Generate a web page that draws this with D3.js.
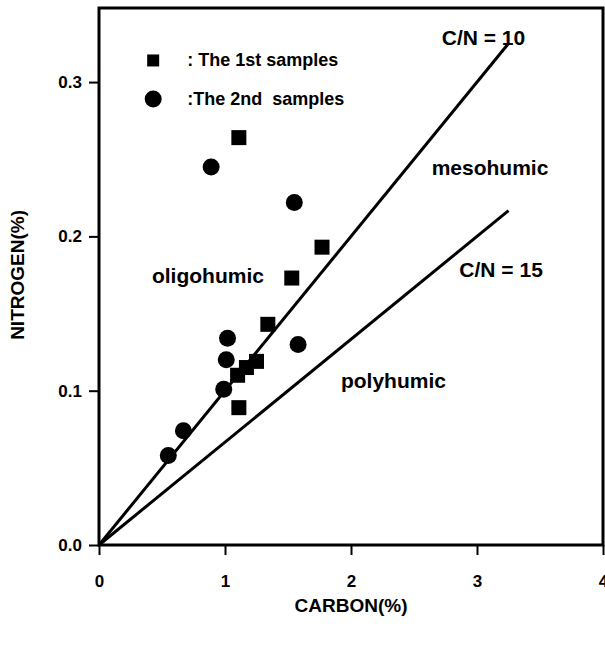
<!DOCTYPE html>
<html>
<head>
<meta charset="utf-8">
<script src="https://cdn.jsdelivr.net/npm/d3@7"></script>
<style>
  body { margin: 0; background: #fff; }
  text { font-family: "Liberation Sans", Arial, sans-serif; font-weight: bold; fill: #000; }
</style>
</head>
<body>
<script>
// 1st samples (squares): carbon %, nitrogen %
var firstCarbon   = [1.11, 1.77, 1.53, 1.34, 1.25, 1.17, 1.10, 1.11];
var firstNitrogen = [0.264, 0.193, 0.173, 0.143, 0.119, 0.115, 0.110, 0.089];

// 2nd samples (circles)
var secondCarbon   = [0.89, 1.55, 1.02, 1.01, 1.58, 0.99, 0.67, 0.55];
var secondNitrogen = [0.245, 0.222, 0.134, 0.120, 0.130, 0.101, 0.074, 0.058];

// C/N reference lines
var ratios = [10, 15];
var lineEndCarbon = 3.25;

var xTicks = [0, 1, 2, 3, 4];
var yTicks = [0, 0.1, 0.2, 0.3];

var margin = {top: 8, right: 2, bottom: 100, left: 99};
var width = 605 - margin.left - margin.right;
var height = 645 - margin.top - margin.bottom;

var xScale = d3.scaleLinear().domain([0, 4]).range([0, width]);
var yScale = d3.scaleLinear().domain([0, 0.348]).range([height, 0]);

var svg = d3.select("body")
  .append("svg")
  .attr("width", 605)
  .attr("height", 645)
  .append("g")
  .attr("transform", "translate(" + margin.left + "," + margin.top + ")");

// frame
svg.append("rect")
  .attr("width", width)
  .attr("height", height)
  .attr("fill", "none")
  .attr("stroke", "#000")
  .attr("stroke-width", 3);

var xAxis = d3.axisBottom(xScale).tickValues(xTicks).tickSize(10).tickPadding(20)
  .tickFormat(d3.format("d"));
var yAxis = d3.axisLeft(yScale).tickValues(yTicks).tickSize(10).tickPadding(7)
  .tickFormat(d3.format(".1f"));

function styleAxis(g) {
  g.select(".domain").remove();
  g.selectAll("line").attr("stroke", "#000").attr("stroke-width", 2);
  g.selectAll("text").attr("font-size", 17).style("font-family", "'Liberation Sans', Arial, sans-serif")
    .style("font-weight", "bold");
}

svg.append("g")
  .attr("class", "x axis")
  .attr("transform", "translate(0," + height + ")")
  .call(xAxis)
  .call(styleAxis);

svg.append("g")
  .attr("class", "y axis")
  .call(yAxis)
  .call(styleAxis);

// axis titles
svg.append("text")
  .attr("x", xScale(2))
  .attr("y", height + 67)
  .attr("text-anchor", "middle")
  .attr("font-size", 19)
  .text("CARBON(%)");

svg.append("text")
  .attr("transform", "translate(" + (-75) + "," + yScale(0.175) + ") rotate(-90)")
  .attr("text-anchor", "middle")
  .attr("font-size", 19)
  .text("NITROGEN(%)");

// C/N lines
var line = d3.line()
  .x(function(d) { return xScale(d[0]); })
  .y(function(d) { return yScale(d[1]); });

svg.selectAll(".ratio")
  .data(ratios)
  .enter().append("path")
  .attr("class", "ratio")
  .attr("d", function(r) { return line([[0, 0], [lineEndCarbon, lineEndCarbon / r]]); })
  .attr("fill", "none")
  .attr("stroke", "#000")
  .attr("stroke-width", 3);

var firstData = firstCarbon.map(function(c, i) { return [c, firstNitrogen[i]]; });
var secondData = secondCarbon.map(function(c, i) { return [c, secondNitrogen[i]]; });

// squares
var sq = 15;
svg.selectAll(".first")
  .data(firstData)
  .enter().append("rect")
  .attr("class", "first")
  .attr("x", function(d) { return xScale(d[0]) - sq / 2; })
  .attr("y", function(d) { return yScale(d[1]) - sq / 2; })
  .attr("width", sq)
  .attr("height", sq)
  .attr("fill", "#000");

// circles
svg.selectAll(".second")
  .data(secondData)
  .enter().append("circle")
  .attr("class", "second")
  .attr("cx", function(d) { return xScale(d[0]); })
  .attr("cy", function(d) { return yScale(d[1]); })
  .attr("r", 8.5)
  .attr("fill", "#000");

// region / line labels
var labels = [
  {text: "C/N = 10", c: 2.72, n: 0.324},
  {text: "mesohumic", c: 2.64, n: 0.240},
  {text: "C/N = 15", c: 2.86, n: 0.174},
  {text: "oligohumic", c: 0.42, n: 0.170},
  {text: "polyhumic", c: 1.92, n: 0.102}
];

svg.selectAll(".label")
  .data(labels)
  .enter().append("text")
  .attr("class", "label")
  .attr("x", function(d) { return xScale(d.c); })
  .attr("y", function(d) { return yScale(d.n); })
  .attr("font-size", 21)
  .text(function(d) { return d.text; });

// legend
var legend = svg.append("g");
legend.append("rect")
  .attr("x", xScale(0.43) - 6)
  .attr("y", yScale(0.314) - 6)
  .attr("width", 12)
  .attr("height", 12)
  .attr("fill", "#000");
legend.append("text")
  .attr("x", xScale(0.70))
  .attr("y", yScale(0.314) + 6)
  .attr("font-size", 18)
  .text(": The 1st samples");
legend.append("circle")
  .attr("cx", xScale(0.43))
  .attr("cy", yScale(0.289))
  .attr("r", 8.5)
  .attr("fill", "#000");
legend.append("text")
  .attr("x", xScale(0.70))
  .attr("y", yScale(0.289) + 6)
  .attr("font-size", 18)
  .style("white-space", "pre")
  .text(":The 2nd  samples");
</script>
</body>
</html>
